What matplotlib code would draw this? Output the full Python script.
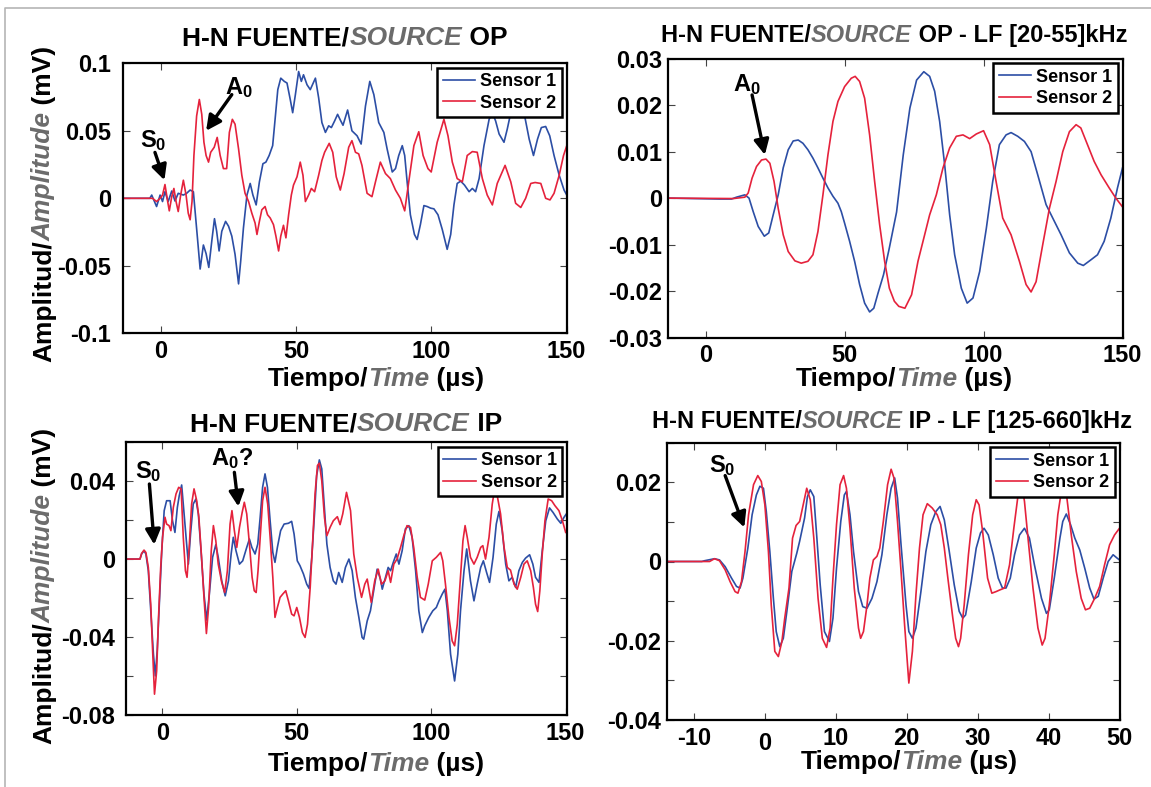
import matplotlib
matplotlib.use("Agg")
import matplotlib.pyplot as plt
import matplotlib.transforms as mtransforms
from matplotlib.lines import Line2D

plt.rcParams['font.family'] = ['Liberation Sans', 'DejaVu Sans']
plt.rcParams['font.weight'] = 'bold'
plt.rcParams['mathtext.fontset'] = 'custom'
plt.rcParams['mathtext.rm'] = 'Liberation Sans:bold'
plt.rcParams['mathtext.bf'] = 'Liberation Sans:bold'

BLUE = '#2c4ea5'
RED = '#e5223c'
GRAY = '#6b6b6b'

# ---- panel 1: H-N source OP (raw) ----
op_t1 = [-14, -4, -3.3, -1.5, -0.2, 0.7, 1.6, 2.8, 4.1, 5.3, 6.5, 8.4, 9.6, 10.9, 12.1, 13.6, 14.6, 15.8,
         16.8, 17.8, 18.9, 19.9, 20.7, 21.6, 22.6, 24.0, 25.1, 26.3, 27.5, 28.8, 29.6, 30.6, 31.9, 33.1,
         34.1, 35.3, 36.5, 37.8, 38.9, 40.1, 41.4, 42.3, 43.3, 44.4, 45.7, 46.7, 47.9, 48.8, 49.8, 51.0,
         52.0, 52.8, 54.1, 55.3, 57.2, 58.4, 59.6, 60.9, 62.1, 63.1, 64.3, 65.4, 66.4, 67.4, 69.1, 70.7,
         72.6, 74.1, 75.7, 77.3, 78.8, 80.6, 82.5, 83.7, 85.6, 86.8, 88.0, 89.3, 90.2, 91.1, 92.3, 93.8,
         94.8, 96.0, 97.3, 98.5, 99.8, 101.0, 102.5, 104.1, 105.9, 107.2, 108.4, 109.6, 110.9, 112.3,
         114.0, 115.2, 116.4, 117.7, 119.5, 121.4, 122.6, 123.8, 125.1, 126.9, 128.1, 129.4, 130.6,
         132.5, 134.3, 136.2, 137.8, 139.3, 140.7, 142.3, 143.8, 145.4, 147.3, 149.1, 150.1]
op_v1 = [0, 0, 0.0024, -0.0061, 0.0024, -0.0024, 0.0049, -0.0024, 0.0054, -0.002, 0.0037, 0.0024, 0.0037,
         0.0061, 0.0049, -0.0293, -0.0524, -0.0346, -0.041, -0.0512, -0.0317, -0.0151, -0.0244, -0.039,
         -0.0244, -0.0171, -0.0207, -0.028, -0.0415, -0.0634, -0.0463, -0.022, 0.0024, 0.011, 0.0024,
         -0.0049, 0.0122, 0.0256, 0.0268, 0.0317, 0.039, 0.0585, 0.0805, 0.089, 0.0866, 0.0854, 0.0732,
         0.0634, 0.0768, 0.0939, 0.0866, 0.0915, 0.0841, 0.0805, 0.089, 0.0744, 0.0561, 0.0488, 0.0537,
         0.0524, 0.0573, 0.0622, 0.058, 0.0541, 0.0654, 0.05, 0.0463, 0.0402, 0.0683, 0.0866, 0.0768,
         0.0561, 0.0488, 0.0366, 0.0195, 0.022, 0.0317, 0.039, 0.0317, 0.0122, -0.0122, -0.0268, -0.0305,
         -0.0195, -0.0054, -0.0061, -0.0073, -0.0078, -0.0122, -0.0232, -0.0378, -0.0268, -0.0049, 0.011,
         0.0127, 0.0098, 0.0049, 0.0073, 0.0049, 0.0146, 0.039, 0.0585, 0.0634, 0.0573, 0.0476, 0.0415,
         0.0512, 0.0634, 0.0707, 0.0744, 0.0634, 0.0439, 0.0317, 0.0439, 0.0524, 0.0532, 0.0463, 0.0317,
         0.0171, 0.0061, 0.0024]
op_t2 = [-14, -3, -2.7, -1.5, -0.2, 0.7, 1.6, 2.6, 3.2, 4.1, 4.9, 5.7, 6.5, 7.4, 8.4, 9.4, 10.2, 10.9,
         11.6, 12.3, 13.3, 14.3, 15.2, 16.0, 16.8, 17.7, 18.5, 19.8, 20.9, 22.0, 23.2, 24.4, 25.4, 26.5,
         27.5, 28.8, 30.0, 31.2, 32.5, 33.7, 34.9, 35.6, 36.5, 37.4, 38.6, 39.5, 40.5, 41.7, 42.6, 43.6,
         44.4, 45.4, 46.3, 47.3, 48.3, 49.1, 50.4, 51.6, 52.6, 53.5, 54.7, 55.7, 56.9, 58.4, 59.6, 60.6,
         62.3, 63.6, 64.9, 66.4, 67.8, 69.5, 70.7, 72.0, 73.2, 74.4, 76.3, 78.1, 79.4, 81.2, 83.1, 84.9,
         86.8, 88.6, 90.2, 91.7, 93.6, 95.4, 97.0, 98.8, 100.0, 102.2, 104.7, 106.2, 107.8, 109.6, 111.5,
         113.3, 115.2, 117.0, 118.9, 120.7, 122.6, 124.4, 127.3, 129.4, 131.2, 133.1, 134.9, 136.8, 138.4,
         140.5, 142.3, 143.9, 145.4, 147.3, 148.9, 150.1]
op_v2 = [0, 0, -0.0005, -0.0024, 0, 0.0024, 0.0102, -0.0024, -0.0093, 0.0012, 0.0073, -0.0024, -0.0098,
         0.0024, 0.0134, 0.0024, -0.011, -0.0159, -0.0024, 0.0317, 0.061, 0.0732, 0.0622, 0.0415, 0.0317,
         0.0268, 0.0341, 0.0378, 0.0451, 0.0317, 0.022, 0.022, 0.0488, 0.0585, 0.0549, 0.0366, 0.0171,
         0.0037, -0.0024, -0.011, -0.0183, -0.0268, -0.0171, -0.0085, -0.0061, -0.0122, -0.0146, -0.0195,
         -0.028, -0.039, -0.028, -0.02, -0.0293, -0.0122, 0.0024, 0.0098, 0.0159, 0.0268, 0.0171, -0.0024,
         0.0024, 0.0073, 0.0049, 0.0171, 0.028, 0.0341, 0.0407, 0.0341, 0.0159, 0.0061, 0.0183, 0.0378,
         0.0427, 0.0341, 0.0329, 0.0244, 0.0037, 0.0012, 0.0122, 0.0268, 0.0183, 0.0146, 0.0061, 0.0,
         -0.0093, 0.0122, 0.039, 0.0493, 0.0317, 0.022, 0.0195, 0.0415, 0.0585, 0.0463, 0.0268, 0.0146,
         0.0122, 0.0317, 0.0346, 0.0341, 0.0146, 0.0024, -0.0049, 0.011, 0.0244, 0.0122, -0.0037, -0.0068,
         0.0, 0.011, 0.0117, 0.011, 0.0, -0.0012, 0.0037, 0.0171, 0.0317, 0.039]

# ---- panel 2: OP, low-pass 20-55 kHz ----
oplf_t1 = [-14, 5, 9.3, 11.1, 14.1, 15.6, 17.1, 18.9, 21.1, 22.7, 24.3, 26.1, 27.9, 29.7, 31.5, 33.3,
           35.0, 36.8, 38.6, 40.4, 42.2, 44.0, 45.8, 47.6, 48.8, 50.0, 51.8, 53.6, 55.4, 57.2, 59.0, 60.5,
           62.0, 64.0, 66.0, 68.7, 71.1, 73.5, 75.9, 78.5, 80.6, 82.4, 84.2, 86.0, 87.8, 89.6, 92.0, 94.1,
           96.2, 98.6, 101.0, 103.3, 105.7, 108.1, 109.9, 112.3, 114.7, 117.1, 119.5, 122.5, 124.9, 127.9,
           130.9, 133.9, 135.9, 138.6, 141.0, 143.4, 145.8, 148.2, 150.0]
oplf_v1 = [0, -0.0002, -0.0002, 0.0002, 0.0007, 0.0, -0.0029, -0.0061, -0.0082, -0.0075, -0.0036, 0.0007,
           0.0065, 0.0104, 0.0123, 0.0125, 0.0118, 0.0104, 0.0086, 0.0065, 0.0043, 0.0022, 0.0004, -0.0011,
           -0.0029, -0.0054, -0.0093, -0.0136, -0.0186, -0.0226, -0.0245, -0.0237, -0.0205, -0.0165, -0.011,
           -0.003, 0.0093, 0.0194, 0.0254, 0.0272, 0.0262, 0.023, 0.0165, 0.0072, -0.0036, -0.0122, -0.0194,
           -0.0226, -0.0215, -0.0158, -0.0065, 0.0036, 0.0115, 0.0136, 0.0141, 0.0133, 0.0122, 0.01, 0.005,
           -0.0014, -0.0043, -0.0079, -0.0118, -0.014, -0.0145, -0.0133, -0.0122, -0.0093, -0.0043, 0.0022,
           0.0065]
oplf_t2 = [-14, 10, 14.1, 15.3, 16.7, 18.3, 20.1, 21.7, 23.1, 24.6, 26.1, 27.9, 29.7, 32.1, 34.4, 36.8,
           38.6, 40.4, 42.2, 44.0, 45.8, 47.6, 50.0, 52.4, 53.8, 55.4, 57.2, 59.0, 60.8, 62.6, 64.4, 66.1,
           67.9, 69.5, 71.7, 74.1, 76.4, 78.8, 80.6, 83.0, 85.4, 87.8, 90.2, 92.6, 95.0, 97.4, 100.0, 102.2,
           104.5, 106.9, 109.9, 112.9, 115.3, 117.1, 118.9, 121.3, 123.7, 126.1, 128.5, 130.9, 133.3, 135.0,
           137.4, 139.8, 142.3, 145.2, 147.6, 150.4]
oplf_v2 = [0, -0.0001, 0.0002, 0.0011, 0.0043, 0.0068, 0.0082, 0.0084, 0.0075, 0.0036, -0.0022, -0.0079,
           -0.0115, -0.0135, -0.014, -0.0136, -0.0122, -0.0072, 0.0007, 0.0093, 0.0165, 0.0208, 0.024,
           0.0258, 0.0262, 0.0251, 0.0215, 0.0136, 0.0036, -0.0057, -0.0136, -0.0194, -0.0222, -0.0233,
           -0.0237, -0.0208, -0.0136, -0.0079, -0.0036, 0.0007, 0.0065, 0.0108, 0.0133, 0.0136, 0.0128,
           0.0138, 0.0145, 0.0115, 0.0036, -0.0043, -0.0079, -0.0136, -0.0186, -0.0202, -0.018, -0.01,
           -0.0022, 0.0036, 0.01, 0.0143, 0.0158, 0.0151, 0.0115, 0.0079, 0.005, 0.0022, 0.0, -0.0022]

# ---- panel 3: H-N source IP (raw) ----
ip_t1 = [-13.5, -8.3, -7.7, -6.8, -6.1, -5.2, -4.3, -3.3, -2.6, -1.9, -1.1, -0.2, 0.7, 1.6, 2.9, 3.8, 4.7,
         5.6, 6.3, 7.2, 8.1, 9.1, 9.7, 10.5, 11.5, 12.5, 13.4, 14.4, 15.5, 16.5, 17.5, 18.7, 19.9, 20.8,
         22.1, 23.4, 24.6, 25.6, 26.4, 27.4, 28.7, 29.9, 31.4, 32.4, 33.3, 34.5, 35.5, 36.4, 37.3, 38.2,
         39.1, 40.1, 41.1, 41.9, 42.8, 44.0, 45.3, 46.9, 48.1, 49.0, 50.2, 51.2, 52.5, 53.7, 54.6, 55.6,
         56.6, 57.4, 58.4, 59.3, 60.2, 61.2, 62.4, 63.6, 64.6, 65.6, 66.9, 68.1, 69.4, 70.6, 71.8, 73.1,
         74.3, 74.9, 76.2, 77.4, 78.7, 79.9, 81.1, 81.8, 83.0, 84.0, 84.9, 85.9, 87.0, 88.0, 89.2, 90.4,
         91.7, 92.9, 94.2, 95.4, 96.7, 97.6, 99.1, 100.6, 101.9, 102.9, 104.1, 105.1, 106.0, 107.2, 108.7,
         109.9, 110.9, 112.2, 113.2, 114.6, 115.9, 117.1, 118.4, 119.4, 120.6, 121.7, 123.0, 124.2, 125.2,
         126.4, 127.7, 128.9, 130.1, 131.4, 132.6, 133.9, 135.1, 136.6, 137.8, 138.8, 140.1, 141.3, 142.6,
         144.0, 145.3, 146.9, 148.2, 149.4, 150.4]
ip_v1 = [0, 0, 0.0026, 0.0043, 0.0026, -0.006, -0.0266, -0.0489, -0.0601, -0.0472, -0.0232, 0.0043, 0.0249,
         0.03, 0.03, 0.0197, 0.0137, 0.0266, 0.0326, 0.0381, 0.0232, 0.0069, -0.0026, 0.0129, 0.0283,
         0.0309, 0.0232, 0.0043, -0.018, -0.0314, -0.018, 0.0009, 0.0074, 0.0009, -0.0112, -0.0189,
         -0.0112, 0.0026, 0.0112, 0.0043, -0.0026, -0.0009, 0.006, 0.0103, 0.006, 0.0026, 0.0077, 0.0215,
         0.0369, 0.0438, 0.0369, 0.0197, 0.0034, -0.0017, 0.006, 0.0146, 0.018, 0.0184, 0.0194, 0.0129,
         -0.0009, -0.0034, -0.0077, -0.0129, -0.0151, 0.0009, 0.0232, 0.0429, 0.051, 0.0464, 0.0283,
         0.0077, -0.0043, -0.0112, -0.0129, -0.0069, -0.012, -0.0043, 0.0, -0.006, -0.0197, -0.03, -0.0403,
         -0.0412, -0.0318, -0.0266, -0.0155, -0.0052, -0.0103, -0.0155, -0.0094, -0.0043, -0.006, -0.0017,
         0.0026, -0.0026, 0.0043, 0.0155, 0.0172, 0.0112, -0.006, -0.0266, -0.0378, -0.0343, -0.03, -0.0266,
         -0.0249, -0.0215, -0.018, -0.0155, -0.0266, -0.0489, -0.0627, -0.0489, -0.0266, -0.006, 0.0052,
         -0.0112, -0.0215, -0.0129, -0.0043, -0.0009, -0.0069, -0.012, 0.0009, 0.018, 0.0245, 0.0146,
         -0.0026, -0.0112, -0.0094, -0.0146, -0.006, -0.0017, 0.0005, 0.0022, -0.0026, -0.0094, -0.012,
         0.0043, 0.0197, 0.0263, 0.024, 0.0206, 0.0184, 0.0215, 0.0235]
ip_t2 = [-13.5, -8.3, -7.7, -6.8, -6.1, -5.2, -4.3, -3.6, -2.9, -2.1, -1.4, -0.6, 0.1, 1.0, 1.6, 2.5, 3.2,
         4.1, 5.1, 6.1, 7.0, 7.8, 8.6, 9.2, 10.0, 10.9, 11.8, 12.8, 13.6, 14.6, 15.5, 16.4, 17.2, 18.2,
         19.0, 19.9, 20.8, 22.1, 23.2, 24.2, 25.2, 25.9, 26.8, 27.7, 28.7, 29.7, 30.5, 31.4, 32.4, 33.4,
         34.2, 34.9, 35.6, 36.4, 37.3, 38.2, 39.2, 40.1, 41.1, 41.9, 42.8, 43.8, 44.8, 45.9, 46.9, 48.1,
         49.0, 50.0, 51.0, 52.1, 53.1, 54.0, 55.0, 56.0, 56.8, 57.7, 58.4, 59.3, 60.3, 61.2, 62.4, 63.6,
         65.1, 66.1, 67.1, 68.5, 70.0, 71.2, 72.5, 74.1, 75.3, 76.2, 77.7, 79.0, 80.3, 81.5, 82.8, 84.0,
         84.9, 86.1, 87.3, 88.6, 89.8, 91.0, 92.3, 93.5, 94.8, 96.0, 97.6, 98.9, 100.4, 101.9, 103.5, 104.3,
         105.3, 106.6, 107.8, 108.7, 109.7, 110.9, 111.8, 112.6, 113.4, 114.6, 115.9, 117.1, 118.4, 119.2,
         120.2, 121.5, 122.7, 123.7, 124.5, 125.8, 127.1, 128.3, 129.5, 130.8, 132.0, 133.3, 134.5, 135.7,
         137.0, 138.0, 138.8, 139.6, 140.4, 141.3, 142.3, 143.5, 144.8, 146.0, 147.5, 148.8, 150.0]
ip_v2 = [0, 0, 0.0029, 0.0046, 0.0034, -0.0043, -0.0232, -0.0472, -0.0695, -0.0575, -0.03, -0.0043, 0.0112,
         0.0215, 0.018, 0.0172, 0.0146, 0.0266, 0.0335, 0.0369, 0.0361, 0.0112, -0.006, -0.0094, 0.006,
         0.0283, 0.0361, 0.03, 0.0215, 0.0009, -0.0197, -0.0383, -0.0249, 0.0043, 0.0172, 0.0094, -0.0026,
         -0.012, -0.0172, -0.006, 0.018, 0.0249, 0.0146, 0.006, 0.0163, 0.024, 0.0292, 0.0232, 0.0077,
         -0.0094, -0.0163, -0.0172, -0.006, 0.0112, 0.03, 0.0369, 0.0283, 0.0112, -0.0094, -0.03, -0.0249,
         -0.0197, -0.018, -0.0163, -0.0215, -0.0283, -0.0292, -0.0249, -0.03, -0.0378, -0.0403, -0.0335,
         -0.0146, 0.0112, 0.0335, 0.0481, 0.0493, 0.0403, 0.0215, 0.012, 0.0163, 0.0197, 0.0218, 0.0177,
         0.0232, 0.0343, 0.0249, 0.0026, -0.0094, -0.0197, -0.0129, -0.0103, -0.0223, -0.0112, -0.0052,
         -0.0129, -0.0112, -0.006, -0.012, -0.0026, 0.0, 0.006, 0.012, 0.0172, 0.0163, 0.006, -0.0094,
         -0.0197, -0.0211, -0.0129, -0.0009, 0.0009, 0.0034, -0.0009, -0.0129, -0.03, -0.0421, -0.0446,
         -0.0335, -0.0094, 0.0094, 0.0172, 0.0112, 0.0009, -0.0026, 0.0009, 0.006, 0.0069, 0.0, 0.0112,
         0.0283, 0.0369, 0.033, 0.0232, 0.006, -0.0043, -0.0057, -0.0129, -0.0155, -0.0094, -0.0026, -0.0009,
         -0.006, -0.0146, -0.0232, -0.027, -0.0163, 0.0026, 0.0197, 0.0309, 0.03, 0.0275, 0.0249, 0.0197,
         0.0137]

# ---- panel 4: IP, low-pass 125-660 kHz ----
iplf_t1 = [-13.8, -8.9, -8.5, -7.1, -6.4, -5.6, -4.7, -4.0, -3.5, -3.1, -2.4, -1.8, -1.2, -0.7, -0.2, 0.2,
           0.7, 1.2, 1.6, 2.1, 2.6, 3.1, 3.8, 4.5, 4.9, 5.6, 6.0, 6.4, 6.9, 7.3, 7.8, 8.4, 9.1, 9.6, 10.1,
           10.7, 11.2, 11.5, 12.0, 12.5, 13.2, 13.8, 14.4, 15.1, 15.8, 16.5, 17.2, 17.8, 18.3, 18.7, 19.2,
           19.9, 20.3, 20.8, 21.3, 22.0, 22.7, 23.4, 24.1, 24.7, 25.3, 26.0, 26.7, 27.4, 27.9, 28.3, 29.1,
           29.8, 30.4, 30.9, 31.5, 32.2, 32.9, 33.5, 34.0, 34.6, 35.2, 35.9, 36.6, 37.3, 38.0, 39.0, 39.7,
           40.1, 40.8, 41.6, 42.0, 42.5, 43.1, 43.7, 44.4, 45.1, 45.8, 46.4, 47.0, 47.7, 48.4, 49.1, 49.7, 50.0]
iplf_v1 = [0, 0, 0.0002, 0.0007, 0.0004, -0.0013, -0.0042, -0.0063, -0.0067, -0.0042, 0.0034, 0.0118,
           0.0168, 0.019, 0.0185, 0.0126, 0.0025, -0.0093, -0.0177, -0.0215, -0.0194, -0.0126, -0.0025,
           0.0021, 0.0051, 0.011, 0.0164, 0.0181, 0.0164, 0.0067, -0.0059, -0.0177, -0.0202, -0.0143,
           -0.0017, 0.0101, 0.0168, 0.0177, 0.0118, 0.0025, -0.0076, -0.0114, -0.0118, -0.0093, -0.0051,
           0.0017, 0.0118, 0.0185, 0.0211, 0.016, 0.0042, -0.011, -0.0177, -0.0194, -0.0168, -0.0076, 0.0025,
           0.0093, 0.0126, 0.0139, 0.0105, 0.0025, -0.0059, -0.0126, -0.0143, -0.0135, -0.0051, 0.0034,
           0.0072, 0.0084, 0.0067, 0.0017, -0.0042, -0.0067, -0.0067, -0.0042, 0.0017, 0.0067, 0.0084,
           0.0059, -0.0008, -0.0093, -0.0131, -0.0122, -0.0042, 0.0059, 0.0101, 0.012, 0.0093, 0.0059,
           0.0029, -0.0017, -0.0067, -0.0095, -0.0088, -0.0042, 0.0, 0.0017, 0.0008, 0.0004]
iplf_t2 = [-13.8, -7.8, -7.1, -6.4, -5.6, -4.9, -4.2, -3.8, -3.3, -2.8, -2.3, -1.6, -1.0, -0.5, 0.0, 0.5,
           0.9, 1.4, 1.9, 2.4, 2.8, 3.4, 3.9, 4.4, 4.9, 5.4, 5.9, 6.4, 6.9, 7.5, 8.1, 8.7, 9.2, 9.6, 10.1,
           10.6, 11.1, 11.5, 12.0, 12.6, 13.2, 13.5, 13.9, 14.4, 14.8, 15.3, 15.8, 16.2, 16.7, 17.3, 17.8,
           18.2, 18.7, 19.2, 19.7, 20.3, 20.8, 21.3, 21.8, 22.3, 22.9, 23.6, 24.3, 24.8, 25.3, 25.8, 26.5,
           26.9, 27.3, 27.6, 28.1, 28.7, 29.3, 29.8, 30.2, 30.7, 31.4, 32.0, 32.6, 33.1, 33.8, 34.5, 35.1,
           35.7, 36.2, 36.6, 37.1, 37.8, 38.5, 39.1, 39.5, 40.1, 40.8, 41.3, 41.8, 42.3, 42.7, 43.2, 43.9,
           44.6, 45.2, 45.8, 46.5, 47.2, 47.9, 48.6, 49.3, 50.0]
iplf_v2 = [0, 0, 0.0007, 0.0002, -0.0021, -0.0051, -0.0076, -0.008, -0.0051, 0.0025, 0.0118, 0.0194,
           0.0217, 0.0202, 0.0143, 0.0025, -0.011, -0.0227, -0.024, -0.0202, -0.0143, -0.0067, 0.0059,
           0.0091, 0.0101, 0.0143, 0.0185, 0.0156, 0.0059, -0.0093, -0.0194, -0.0217, -0.0168, -0.0042,
           0.0093, 0.0194, 0.0217, 0.0185, 0.0084, -0.0067, -0.0168, -0.0194, -0.0177, -0.011, -0.0042,
           0.0004, 0.0013, 0.0034, 0.0101, 0.0194, 0.0233, 0.0211, 0.0101, -0.0025, -0.016, -0.0307,
           -0.0227, -0.0084, 0.0034, 0.0118, 0.0146, 0.0135, 0.0118, 0.0093, 0.0034, -0.0042, -0.0143,
           -0.0194, -0.0215, -0.0194, -0.011, 0.0017, 0.0118, 0.0156, 0.0143, 0.0076, -0.0042, -0.008,
           -0.0076, -0.0072, -0.0067, -0.0008, 0.0084, 0.0168, 0.0198, 0.0152, 0.0059, -0.0067, -0.0168,
           -0.0211, -0.0194, -0.011, 0.0017, 0.0118, 0.0177, 0.0202, 0.0143, 0.0067, -0.0025, -0.0093,
           -0.0122, -0.0118, -0.0093, -0.0063, -0.0008, 0.0042, 0.0067, 0.0084]

W, H = 1151, 787
fig = plt.figure(figsize=(W / 100, H / 100), dpi=100)
renderer = fig.canvas.get_renderer()


def axes_px(left, top, right, bottom):
    return fig.add_axes([left / W, 1 - bottom / H, (right - left) / W, (bottom - top) / H])


def rich_text(pieces, x, y, size, rotation=0):
    # pieces drawn one after another; (x, y) in pixels from top-left:
    # horizontal -> x is the centre, y the baseline; vertical -> x is the baseline, y the centre
    widths = []
    for s, color, style in pieces:
        t = fig.text(0, 0, s, fontsize=size, fontstyle=style)
        widths.append(t.get_window_extent(renderer).width)
        t.remove()
    pos = -sum(widths) / 2
    for (s, color, style), w in zip(pieces, widths):
        if rotation:
            fig.text(x / W, 1 - (y - pos) / H, s, fontsize=size, fontstyle=style, color=color,
                     rotation=90, rotation_mode='anchor', ha='left', va='baseline')
        else:
            fig.text((x + pos) / W, 1 - y / H, s, fontsize=size, fontstyle=style, color=color,
                     ha='left', va='baseline')
        pos += w


def style_axes(ax, xlim, ylim, xticks, yticks, ylabels, ypad):
    ax.set_xlim(xlim)
    ax.set_ylim(ylim)
    ax.set_xticks(xticks)
    ax.set_xticklabels([f"{v:g}" for v in xticks])
    ax.set_yticks(yticks)
    ax.set_yticklabels(ylabels)
    ax.tick_params(direction='in', top=True, right=True, length=5, width=0.8,
                   color='#444444', labelsize=17)
    ax.tick_params(axis='y', pad=ypad)
    ax.tick_params(axis='x', pad=5)
    for sp in ax.spines.values():
        sp.set_linewidth(1.6)
    leg = ax.legend(loc='upper right', fontsize=13, fancybox=False, edgecolor='k', framealpha=1,
                    borderpad=0.3, handlelength=1.8, handletextpad=0.3, labelspacing=0.25,
                    borderaxespad=0.25)
    leg.get_frame().set_linewidth(1.8)


def arrow(ax, label, text_xy, start, tip):
    ax.text(*text_xy, label, fontsize=17, ha='center', va='center')
    ax.annotate('', xy=tip, xytext=start,
                arrowprops=dict(arrowstyle='-|>,head_length=0.6,head_width=0.3', lw=2.4,
                                color='k', shrinkA=0, shrinkB=0, mutation_scale=15))


def plot_pair(ax, t1, v1, t2, v2):
    ax.plot(t1, v1, color=BLUE, lw=1.2, label='Sensor 1')
    ax.plot(t2, v2, color=RED, lw=1.2, label='Sensor 2')


title_op = [("H-N FUENTE/", 'k', 'normal'), ("SOURCE", GRAY, 'italic'), (" OP", 'k', 'normal')]
title_oplf = [("H-N FUENTE/", 'k', 'normal'), ("SOURCE", GRAY, 'italic'),
              (" OP - LF [20-55]kHz", 'k', 'normal')]
title_ip = [("H-N FUENTE/", 'k', 'normal'), ("SOURCE", GRAY, 'italic'), (" IP", 'k', 'normal')]
title_iplf = [("H-N FUENTE/", 'k', 'normal'), ("SOURCE", GRAY, 'italic'),
              (" IP - LF [125-660]kHz", 'k', 'normal')]
xlab = [("Tiempo/", 'k', 'normal'), ("Time", GRAY, 'italic'), (" (\u00b5s)", 'k', 'normal')]
ylab = [("Amplitud/", 'k', 'normal'), ("Amplitude", GRAY, 'italic'), (" (mV)", 'k', 'normal')]

# panel 1
ax1 = axes_px(123.3, 63.3, 566.5, 333.3)
plot_pair(ax1, op_t1, op_v1, op_t2, op_v2)
style_axes(ax1, (-13.8, 150), (-0.1, 0.1), [0, 50, 100, 150],
           [-0.1, -0.05, 0, 0.05, 0.1], ['-0.1', '-0.05', '0', '0.05', '0.1'], 9)
arrow(ax1, r'$\mathbf{S_0}$', (-2.7, 0.043), (-2.1, 0.034), (1.4, 0.0134))
arrow(ax1, r'$\mathbf{A_0}$', (28.8, 0.082), (26.3, 0.0768), (16.8, 0.05))

# panel 2
ax2 = axes_px(667.6, 58.7, 1122.5, 337.5)
plot_pair(ax2, oplf_t1, oplf_v1, oplf_t2, oplf_v2)
style_axes(ax2, (-13.7, 150), (-0.03, 0.03), [0, 50, 100, 150],
           [-0.03, -0.02, -0.01, 0, 0.01, 0.02, 0.03],
           ['-0.03', '-0.02', '-0.01', '0', '0.01', '0.02', '0.03'], 4)
arrow(ax2, r'$\mathbf{A_0}$', (14.7, 0.0245), (16.7, 0.0222), (21.3, 0.0093))

# panel 3
ax3 = axes_px(126, 442.4, 567, 714.6)
plot_pair(ax3, ip_t1, ip_v1, ip_t2, ip_v2)
style_axes(ax3, (-13.5, 150.5), (-0.08, 0.06), [0, 50, 100, 150],
           [-0.08, -0.06, -0.04, -0.02, 0, 0.02, 0.04, 0.06],
           ['-0.08', '', '-0.04', '', '0', '', '0.04', ''], 8)
arrow(ax3, r'$\mathbf{S_0}$', (-5.2, 0.045), (-4.8, 0.0386), (-3.0, 0.0074))
arrow(ax3, r'$\mathbf{A_0?}$', (25.8, 0.0515), (26.8, 0.0446), (28.3, 0.027))

# panel 4
ax4 = axes_px(667, 442.7, 1119.5, 719.9)
plot_pair(ax4, iplf_t1, iplf_v1, iplf_t2, iplf_v2)
style_axes(ax4, (-13.8, 50), (-0.04, 0.03), [-10, 0, 10, 20, 30, 40, 50],
           [-0.04, -0.03, -0.02, -0.01, 0, 0.01, 0.02, 0.03],
           ['-0.04', '', '-0.02', '', '0', '', '0.02', ''], 4)
arrow(ax4, r'$\mathbf{S_0}$', (-6.0, 0.0243), (-5.6, 0.0217), (-2.9, 0.0086))
# the "0" tick label sits a little lower in the original
zero_lbl = ax4.xaxis.get_major_ticks()[1].label1
zero_lbl.set_transform(zero_lbl.get_transform()
                       + mtransforms.ScaledTranslation(0, -0.05, fig.dpi_scale_trans))

# titles and axis labels
rich_text(title_op, 345, 45, 19)
rich_text(title_oplf, 894, 42, 17)
rich_text(title_ip, 346, 431, 19)
rich_text(title_iplf, 892, 428, 17)
rich_text(xlab, 376, 386, 19)
rich_text(xlab, 904, 386, 19)
rich_text(xlab, 376, 771, 19)
rich_text(xlab, 909, 769, 19)
rich_text(ylab, 51, 204, 19, rotation=90)
rich_text(ylab, 51, 586, 19, rotation=90)

# thin grey frame of the original figure
fig.add_artist(Line2D([5 / W, 5 / W, 1], [0, 1 - 8 / H, 1 - 8 / H], transform=fig.transFigure,
                      color='#b5b5b5', lw=1.2))

fig.savefig('out.png', dpi=100)
